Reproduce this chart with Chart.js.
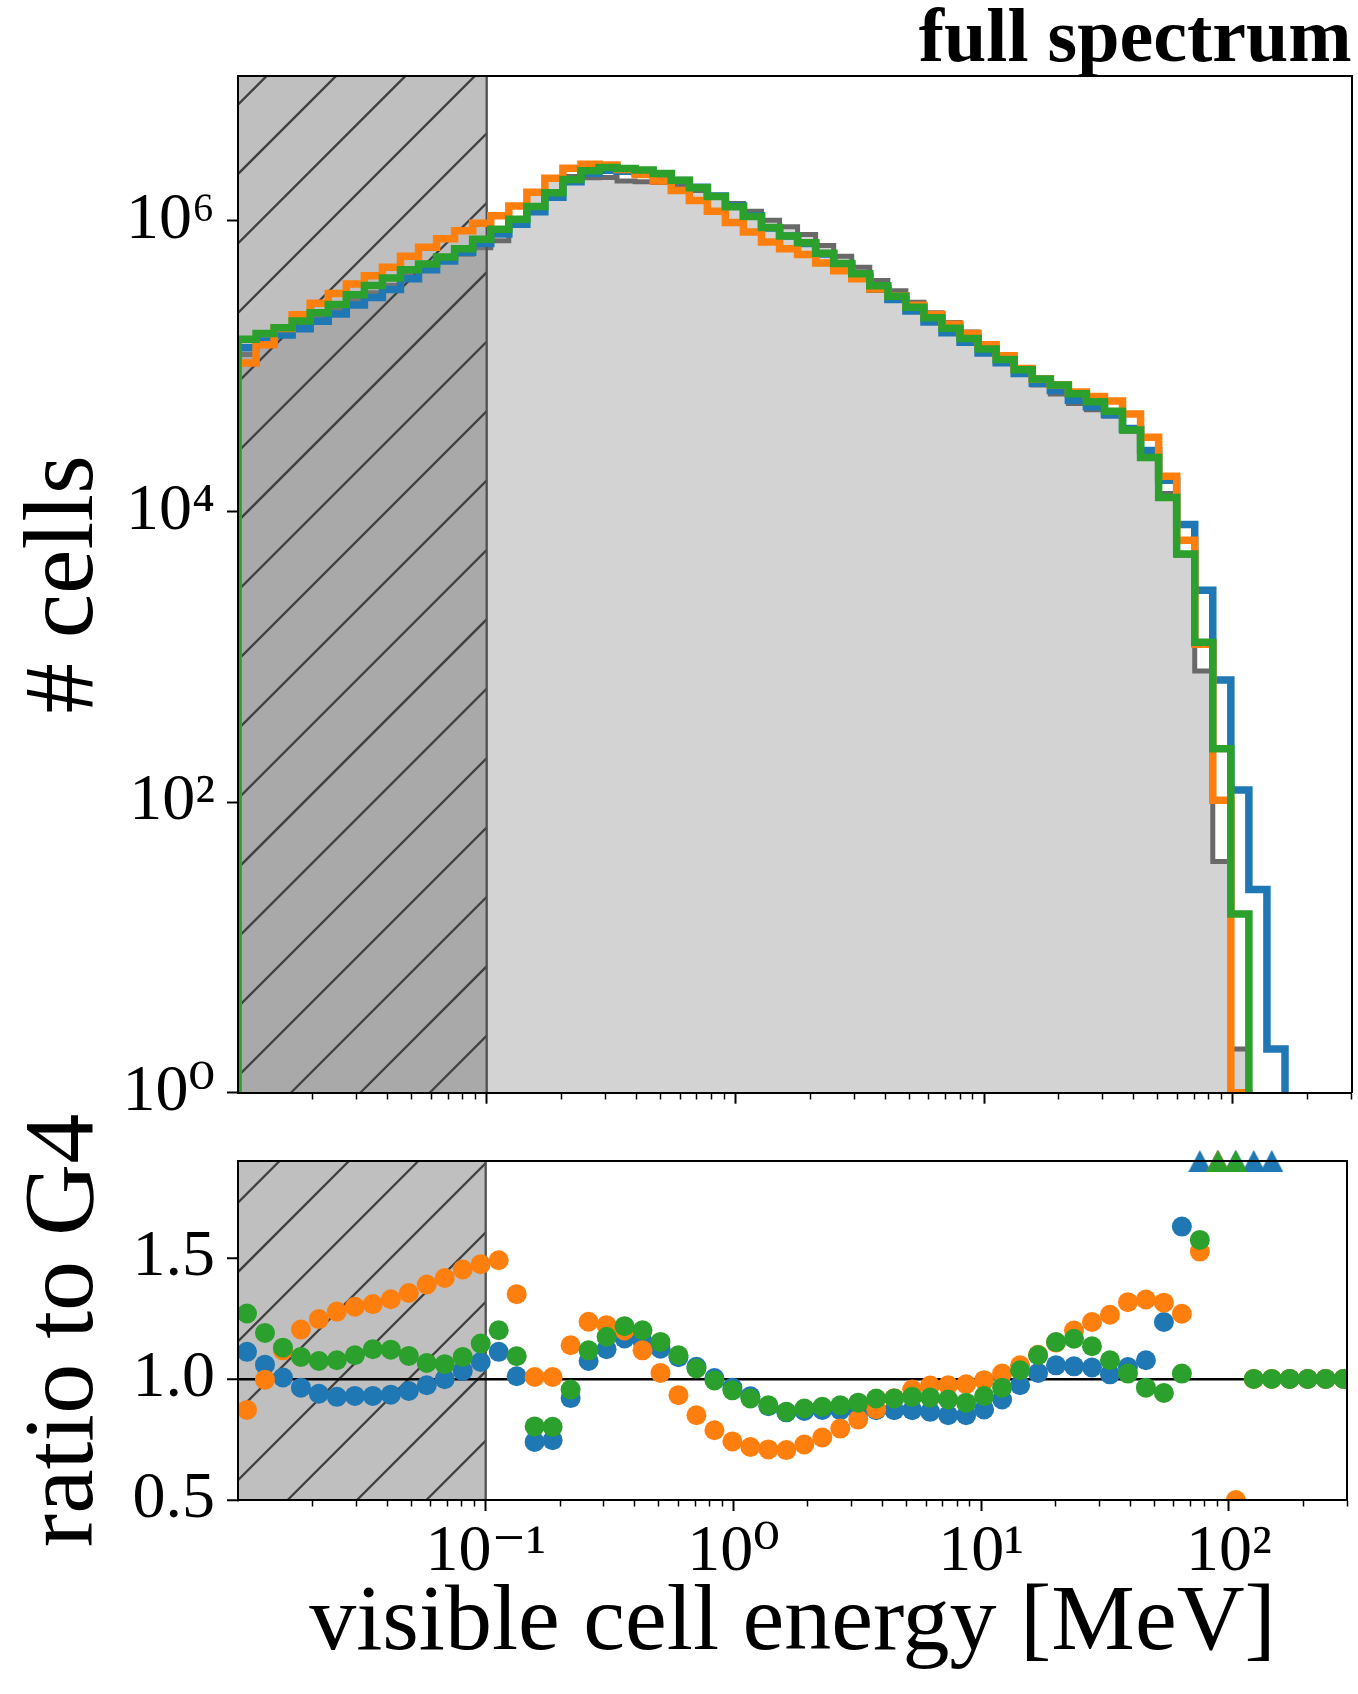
<!DOCTYPE html>
<html>
<head>
<meta charset="utf-8">
<script src="https://cdn.jsdelivr.net/npm/chart.js"></script>
<style>
html, body { margin: 0; padding: 0; background: #ffffff; }
#wrap { position: relative; width: 1358px; height: 1694px; overflow: hidden; background: #ffffff; }
#wrap canvas { position: absolute; left: 0; }
</style>
</head>
<body>
<div id="wrap">
  <canvas id="topChart" width="1358" height="1150" style="top:0px"></canvas>
  <canvas id="ratioChart" width="1358" height="594" style="top:1100px"></canvas>
</div>
<script>
// ------------------------------------------------------------------
// DATA
// ------------------------------------------------------------------
// 62 logarithmic bins of visible cell energy [MeV]
const binEdges = [0.01, 0.01182, 0.01397, 0.01651, 0.01951, 0.02306, 0.02726, 0.03222, 0.03808, 0.04500,
  0.05319, 0.06286, 0.07430, 0.08781, 0.1038, 0.1227, 0.1450, 0.1713, 0.2025, 0.2394,
  0.2829, 0.3343, 0.3952, 0.4670, 0.5520, 0.6524, 0.7711, 0.9113, 1.077, 1.273,
  1.505, 1.778, 2.102, 2.484, 2.936, 3.470, 4.101, 4.847, 5.729, 6.771,
  8.003, 9.458, 11.18, 13.21, 15.62, 18.46, 21.81, 25.78, 30.47, 36.01,
  42.56, 50.31, 59.46, 70.27, 83.05, 98.16, 116.0, 137.1, 162.1, 191.5,
  226.4, 267.6, 316.2];

// # cells per bin
const histG4 = [120500, 140900, 162900, 187500, 217300, 247200, 283100, 319900, 360600, 421700,
  473200, 530900, 588800, 653100, 729500, 937600, 1560000, 1950000, 2018000, 1982000,
  1986000, 1884000, 1862000, 1837000, 1738000, 1622000, 1479000, 1315000, 1167000, 1009000,
  912000, 805000, 678000, 571000, 480000, 389000, 330000, 275000, 233000, 199500,
  171800, 141300, 115600, 91400, 74300, 64400, 55300, 50100, 45500, 35600,
  24400, 13300, 4990, 800, 39, 2, 0, 0, 0, 0, 0, 0];
const histBlue = [134000, 149200, 163900, 180800, 204000, 228900, 263300, 297500, 337200, 400600,
  460900, 530400, 608200, 698800, 811200, 947900, 1154000, 1457000, 1859000, 2129000,
  2230000, 2199000, 2152000, 2067000, 1894000, 1703000, 1485000, 1268000, 1083000, 895000,
  786000, 698700, 591200, 497300, 414700, 338800, 287400, 239500, 201300, 169600,
  146000, 123500, 105800, 89000, 76200, 68000, 58200, 52500, 46400, 37300,
  26300, 16400, 8130, 2870, 692, 121, 25, 2, 0, 0, 0, 0];
const histOrange = [105100, 140500, 182100, 225800, 271000, 315900, 367500, 418700, 479200, 571400,
  657700, 752300, 854900, 962700, 1087000, 1266000, 1572000, 1966000, 2299000, 2450000,
  2427000, 2261000, 2082000, 1883000, 1622000, 1379000, 1165000, 975700, 839100, 715400,
  643900, 586800, 513900, 453900, 399400, 340400, 303600, 262900, 226700, 194300,
  168000, 140600, 118100, 96500, 81700, 74100, 66400, 61900, 57600, 46900,
  32400, 17500, 6330, 1221, 103, 1, 0, 0, 0, 0, 0, 0];
const histGreen = [153000, 167700, 183900, 204600, 233400, 266200, 310800, 359200, 404200, 461800,
  504400, 563300, 642400, 748500, 876100, 1026000, 1254000, 1564000, 1929000, 2216000,
  2332000, 2295000, 2236000, 2118000, 1908000, 1692000, 1470000, 1253000, 1072000, 899000,
  788000, 706800, 600000, 508800, 433000, 357500, 303300, 254700, 215100, 182500,
  155000, 131300, 111400, 94700, 81600, 74200, 64500, 56900, 49000, 36400,
  23500, 12500, 5100, 1259, 233, 17, 0, 0, 0, 0, 0, 0];

// ratio to G4 per bin (values above the axis range are drawn as triangles at the top)
const ratioBlue = [1.112, 1.059, 1.006, 0.964, 0.939, 0.926, 0.930, 0.930, 0.935, 0.950,
  0.974, 0.999, 1.033, 1.070, 1.112, 1.011, 0.740, 0.747, 0.921, 1.074,
  1.123, 1.167, 1.156, 1.125, 1.090, 1.050, 1.004, 0.964, 0.928, 0.887,
  0.862, 0.868, 0.872, 0.871, 0.864, 0.871, 0.871, 0.871, 0.864, 0.850,
  0.850, 0.874, 0.915, 0.974, 1.025, 1.056, 1.052, 1.047, 1.019, 1.049,
  1.077, 1.235, 1.629, 3.59, 17.7, 60.5, Infinity, Infinity, 1.0, 1.0, 1.0, 1.0];
const ratioOrange = [0.872, 0.997, 1.118, 1.204, 1.247, 1.278, 1.298, 1.309, 1.329, 1.355,
  1.390, 1.417, 1.452, 1.474, 1.490, 1.350, 1.008, 1.008, 1.139, 1.236,
  1.222, 1.200, 1.118, 1.025, 0.933, 0.850, 0.788, 0.742, 0.719, 0.709,
  0.706, 0.729, 0.758, 0.795, 0.832, 0.875, 0.920, 0.956, 0.973, 0.974,
  0.978, 0.995, 1.022, 1.056, 1.100, 1.150, 1.200, 1.235, 1.265, 1.317,
  1.328, 1.315, 1.269, 1.526, 2.64, 0.5, 1.0, 1.0, 1.0, 1.0, 1.0, 1.0];
const ratioGreen = [1.270, 1.190, 1.129, 1.091, 1.074, 1.077, 1.098, 1.123, 1.121, 1.095,
  1.066, 1.061, 1.091, 1.146, 1.201, 1.094, 0.804, 0.802, 0.956, 1.118,
  1.174, 1.218, 1.201, 1.153, 1.098, 1.043, 0.994, 0.953, 0.919, 0.891,
  0.864, 0.878, 0.885, 0.891, 0.902, 0.919, 0.919, 0.926, 0.923, 0.915,
  0.902, 0.929, 0.964, 1.036, 1.098, 1.152, 1.166, 1.135, 1.077, 1.022,
  0.964, 0.942, 1.022, 1.574, 5.97, 8.5, 1.0, 1.0, 1.0, 1.0, 1.0, 1.0];

// axis ranges, ticks and labels
const energyRange = [0.01, 300];
const countRange = [1, 1e7];
const ratioRange = [0.5, 1.9];
const thresholdRange = [0.01, 0.1];       // hatched region
const energyTicks = [0.1, 1, 10, 100];
const energyTickLabels = ['10\u207B\u00B9', '10\u2070', '10\u00B9', '10\u00B2'];
const countTicks = [1, 1e2, 1e4, 1e6];
const countTickLabels = ['10\u2070', '10\u00B2', '10\u2074', '10\u2076'];
const ratioTicks = [0.5, 1.0, 1.5];
const ratioTickLabels = ['0.5', '1.0', '1.5'];

const titleText = 'full spectrum';
const xTitle = 'visible cell energy [MeV]';
const yTitleTop = '# cells';
const yTitleBottom = 'ratio to G4';

// ------------------------------------------------------------------
// STYLE
// ------------------------------------------------------------------
const FONT = "'Liberation Serif', 'DejaVu Serif', serif";
const C_BLUE = '#1f77b4', C_ORANGE = '#ff7f0e', C_GREEN = '#2ca02c';
const C_G4_EDGE = '#696969', C_G4_FILL = '#d3d3d3';
const ZERO_FLOOR = 1e-3;   // empty bins drop below the axis
Chart.defaults.color = '#000';
Chart.defaults.font.family = FONT;

// ------------------------------------------------------------------
// helpers
// ------------------------------------------------------------------
function energyTickList() {
  const list = [];
  for (let e = -2; e <= 2; e++) {
    for (let m = 1; m <= 9; m++) {
      const v = +(m * Math.pow(10, e)).toPrecision(6);
      if (v <= energyRange[0] * 1.0001 || v > energyRange[1] * 1.0001) continue;
      list.push(v);
    }
  }
  return list;
}
function findIdx(arr, v) {
  return arr.findIndex(t => Math.abs(t - v) <= Math.abs(t) * 1e-6);
}
const isMajorEnergy = v => findIdx(energyTicks, v) >= 0;

function stepPoints(h) {
  const f = v => (v > 0 ? v : ZERO_FLOOR);
  const pts = [{x: binEdges[0], y: ZERO_FLOOR}];
  h.forEach((v, i) => pts.push({x: binEdges[i], y: f(v)}));
  pts.push({x: binEdges[h.length], y: f(h[h.length - 1])});
  pts.push({x: binEdges[h.length], y: ZERO_FLOOR});
  return pts;
}
const binCenters = histG4.map((_, i) => Math.sqrt(binEdges[i] * binEdges[i + 1]));
function ratioDots(r) {
  return r.map((v, i) => ({x: binCenters[i], y: v <= ratioRange[1] ? v : null}));
}
function ratioOver(r) {
  return r.map((v, i) => (v > ratioRange[1] ? {x: binCenters[i], y: ratioRange[1]} : null)).filter(Boolean);
}
function triangleMarker(color) {
  const w = 23, h = 22;
  const c = document.createElement('canvas');
  c.width = w; c.height = h;
  const g = c.getContext('2d');
  g.fillStyle = color;
  g.beginPath(); g.moveTo(w / 2, 0); g.lineTo(w, h); g.lineTo(0, h); g.closePath(); g.fill();
  return c;
}

function paintThreshold(chart, opts) {
  const {ctx, chartArea: a, scales} = chart;
  const xs = scales.x;
  const left = Math.max(a.left, xs.getPixelForValue(thresholdRange[0]));
  const right = Math.min(a.right, xs.getPixelForValue(thresholdRange[1]));
  ctx.save();
  ctx.beginPath(); ctx.rect(left, a.top, right - left, a.bottom - a.top); ctx.clip();
  ctx.fillStyle = 'rgba(128,128,128,0.5)';
  ctx.fillRect(left, a.top, right - left, a.bottom - a.top);
  ctx.strokeStyle = '#404040'; ctx.lineWidth = 2.3;
  const sp = 69.4;
  const cMin = left + a.top, cMax = right + a.bottom;
  let c = opts.phase + Math.floor((cMin - opts.phase) / sp) * sp;
  ctx.beginPath();
  for (; c <= cMax + sp; c += sp) { ctx.moveTo(c - a.bottom, a.bottom); ctx.lineTo(c - a.top, a.top); }
  ctx.stroke();
  ctx.restore();
  ctx.save();
  ctx.strokeStyle = '#505050'; ctx.lineWidth = 2.3;
  ctx.beginPath(); ctx.moveTo(right, a.top); ctx.lineTo(right, a.bottom); ctx.stroke();
  ctx.restore();
}
const thresholdPlugin = {
  id: 'threshold',
  beforeDraw(chart, args, opts) { if (opts.stage === 'beforeDraw') paintThreshold(chart, opts); },
  afterDatasetDraw(chart, args, opts) {
    if (opts.stage === 'afterDataset' && args.index === opts.datasetIndex) paintThreshold(chart, opts);
  }
};

const BORDER = {display: true, color: '#000', width: 2, z: 1};
function frameAxis(position) {
  const horiz = position === 'top';
  return {
    type: 'linear', position: position, min: 0, max: 1,
    ticks: {display: false},
    grid: {drawOnChartArea: false, drawTicks: false},
    border: BORDER,
    afterFit: s => { if (horiz) s.height = 0; else s.width = 0; }
  };
}
function energyAxis(showLabels, axisHeight) {
  return {
    type: 'logarithmic', position: 'bottom',
    min: energyRange[0], max: energyRange[1],
    afterBuildTicks: s => { s.ticks = energyTickList().map(v => ({value: v, major: isMajorEnergy(v)})); },
    ticks: {
      display: showLabels, autoSkip: false, maxRotation: 0, minRotation: 0, padding: 2,
      font: {family: FONT, size: 66},
      callback: v => { const i = findIdx(energyTicks, v); return i >= 0 ? energyTickLabels[i] : ''; }
    },
    grid: {
      drawOnChartArea: false, tickLength: 11, tickColor: '#000',
      tickWidth: c => (c.tick && isMajorEnergy(c.tick.value) ? 2 : 1.5),
      tickBorderDash: c => (c.tick && isMajorEnergy(c.tick.value) ? [] : [5.5, 100])
    },
    border: BORDER,
    title: showLabels ? {display: true, text: xTitle, font: {family: FONT, size: 94}, padding: {top: 0, bottom: 13}} : {display: false},
    afterFit: s => { s.height = axisHeight; }
  };
}

// ------------------------------------------------------------------
// TOP: histogram
// ------------------------------------------------------------------
const lineBase = {stepped: true, pointRadius: 0, pointHoverRadius: 0, clip: 0, borderJoinStyle: 'miter', borderCapStyle: 'butt', tension: 0};
new Chart(document.getElementById('topChart'), {
  type: 'line',
  data: {
    datasets: [
      Object.assign({}, lineBase, {label: 'G4', data: stepPoints(histG4), borderColor: C_G4_EDGE, borderWidth: 5, backgroundColor: C_G4_FILL, fill: 'start', order: 4}),
      Object.assign({}, lineBase, {label: 'blue', data: stepPoints(histBlue), borderColor: C_BLUE, borderWidth: 7.5, fill: false, order: 3}),
      Object.assign({}, lineBase, {label: 'orange', data: stepPoints(histOrange), borderColor: C_ORANGE, borderWidth: 7.5, fill: false, order: 2}),
      Object.assign({}, lineBase, {label: 'green', data: stepPoints(histGreen), borderColor: C_GREEN, borderWidth: 7.5, fill: false, order: 1})
    ]
  },
  options: {
    responsive: false, animation: false, devicePixelRatio: 1,
    events: [],
    layout: {padding: {left: 0, right: 6.5, top: 0, bottom: 0}},
    plugins: {
      legend: {display: false}, tooltip: {enabled: false},
      title: {display: true, text: titleText, align: 'end', color: '#000',
              font: {family: FONT, size: 76, weight: 'bold', lineHeight: 0.9}, padding: {top: 7, bottom: 0.2}},
      threshold: {stage: 'afterDataset', datasetIndex: 0, phase: 65}
    },
    scales: {
      x: energyAxis(false, 57.3),
      y: {
        type: 'logarithmic', position: 'left', min: countRange[0], max: countRange[1],
        afterBuildTicks: s => { s.ticks = countTicks.map(v => ({value: v, major: true})); },
        ticks: {autoSkip: false, padding: 12, font: {family: FONT, size: 66},
                callback: v => { const i = findIdx(countTicks, v); return i >= 0 ? countTickLabels[i] : ''; }},
        grid: {drawOnChartArea: false, tickLength: 11, tickWidth: 2, tickColor: '#000'},
        border: BORDER,
        title: {display: true, text: yTitleTop, font: {family: FONT, size: 100}, padding: {top: 6, bottom: 0}},
        afterFit: s => { s.width = 238; }
      },
      x2: frameAxis('top'),
      y2: frameAxis('right')
    }
  },
  plugins: [thresholdPlugin]
});

// ------------------------------------------------------------------
// BOTTOM: ratio to G4
// ------------------------------------------------------------------
const dotBase = {showLine: false, pointRadius: 10, pointHoverRadius: 10, pointBorderWidth: 0, clip: 0};
const triBase = {showLine: false, pointRadius: 11, pointBorderWidth: 0, clip: false};
new Chart(document.getElementById('ratioChart'), {
  type: 'scatter',
  data: {
    datasets: [
      Object.assign({}, triBase, {label: 'green over', data: ratioOver(ratioGreen), pointStyle: triangleMarker(C_GREEN), backgroundColor: C_GREEN, order: 1}),
      Object.assign({}, dotBase, {label: 'green', data: ratioDots(ratioGreen), backgroundColor: C_GREEN, borderColor: C_GREEN, order: 2}),
      Object.assign({}, triBase, {label: 'orange over', data: ratioOver(ratioOrange), pointStyle: triangleMarker(C_ORANGE), backgroundColor: C_ORANGE, order: 3}),
      Object.assign({}, dotBase, {label: 'orange', data: ratioDots(ratioOrange), backgroundColor: C_ORANGE, borderColor: C_ORANGE, order: 4}),
      Object.assign({}, triBase, {label: 'blue over', data: ratioOver(ratioBlue), pointStyle: triangleMarker(C_BLUE), backgroundColor: C_BLUE, order: 5}),
      Object.assign({}, dotBase, {label: 'blue', data: ratioDots(ratioBlue), backgroundColor: C_BLUE, borderColor: C_BLUE, order: 6})
    ]
  },
  options: {
    responsive: false, animation: false, devicePixelRatio: 1,
    events: [],
    layout: {padding: {left: 0, right: 6.5, top: 61, bottom: 0}},
    plugins: {
      legend: {display: false}, tooltip: {enabled: false}, title: {display: false},
      threshold: {stage: 'beforeDraw', phase: 63}
    },
    scales: {
      x: energyAxis(true, 194),
      y: {
        type: 'linear', position: 'left', min: ratioRange[0], max: ratioRange[1],
        afterBuildTicks: s => { s.ticks = ratioTicks.map(v => ({value: v})); },
        ticks: {autoSkip: false, padding: 12, font: {family: FONT, size: 66},
                callback: v => { const i = findIdx(ratioTicks, v); return i >= 0 ? ratioTickLabels[i] : ''; }},
        grid: {
          drawOnChartArea: true, tickLength: 11, tickWidth: 2, tickColor: '#000',
          color: c => (c.tick && Math.abs(c.tick.value - 1) < 1e-9 ? '#000' : 'rgba(0,0,0,0)'),
          lineWidth: 2.5
        },
        border: BORDER,
        title: {display: true, text: yTitleBottom, font: {family: FONT, size: 100}, padding: {top: 6, bottom: 0}},
        afterFit: s => { s.width = 238; }
      },
      x2: frameAxis('top'),
      y2: frameAxis('right')
    }
  },
  plugins: [thresholdPlugin]
});
</script>
</body>
</html>
